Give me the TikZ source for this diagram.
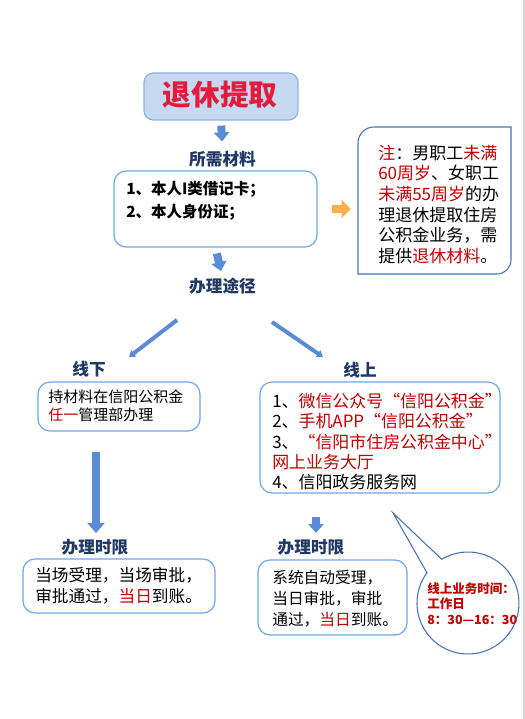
\documentclass[tikz,border=0pt]{standalone}
\usepackage{fontspec}
\setmainfont{Noto Sans CJK SC}
\usetikzlibrary{arrows.meta,fit}
\definecolor{titlefill}{HTML}{C6D9F1}
\definecolor{titleline}{HTML}{8EB4E3}
\definecolor{titlered}{HTML}{E21C3D}
\definecolor{navy}{HTML}{1F3864}
\definecolor{boxline}{HTML}{6FA6E6}
\definecolor{noteline}{HTML}{4A72B5}
\definecolor{hot}{HTML}{C00000}
\definecolor{arrblue}{HTML}{5A8BD6}
\definecolor{arrorange}{HTML}{FBB04C}
\definecolor{edgegray}{HTML}{D9D9D9}
\newcommand{\hotred}[1]{\textcolor{hot}{#1}}
\tikzset{
  tbox/.style={draw=titleline, fill=titlefill, line width=0.9pt, rounded corners=7pt, inner sep=0pt},
  frame/.style={draw=boxline, line width=0.9pt, rounded corners=9pt, inner sep=0pt},
  head/.style={text=navy, font=\fontsize{12.5}{14}\selectfont\bfseries, inner sep=0pt},
  txt/.style={anchor=north west, align=left, inner sep=0pt},
  fat/.style={draw=arrblue, line width=6pt, -{Triangle[width=11.25pt,length=6.75pt]}},
  longfat/.style={draw=arrblue, line width=6pt, -{Triangle[width=12.75pt,length=7.5pt]}},
  slim/.style={draw=arrblue, line width=3pt, -{Triangle[width=6pt,length=4.5pt]}},
  side/.style={draw=arrorange, line width=6pt, -{Triangle[width=13.5pt,length=6.75pt]}},
  bubble/.style={draw=noteline, line width=0.8pt, fill=white},
}

\begin{document}
\begin{tikzpicture}[x=0.75pt,y=-0.75pt]
  \useasboundingbox (0,0) rectangle (525,719);
  \draw[edgegray, line width=1.5pt] (523.5,0) -- (523.5,719);

  \node[tbox, fit={(144,73)(298,120)}] (titlebox) {};
  \node[text=titlered, font=\fontsize{21.5}{24}\selectfont\bfseries, inner sep=0pt] (title) at (220,95) {退休提取};
  \node[head] (need) at (222.5,159) {所需材料};
  \node[frame, fit={(114,171)(317,247)}] (needbox) {};
  \node[txt, font=\fontsize{11.6}{17}\selectfont\bfseries] (needtxt) at (126,181) {1、本人I类借记卡；\\2、本人身份证；};
  \node[head] (way) at (222.5,286) {办理途径};

  \node[fit={(358,127)(511,274)}, inner sep=0pt] (notebox) {};
  \draw[draw=noteline, line width=0.8pt, fill=white] (374,127) -- (511,127) -- (511,260)
    arc[start angle=0, end angle=90, radius=14] -- (358,274) -- (358,143)
    arc[start angle=180, end angle=270, radius=16] -- cycle;
  \node[txt, font=\fontsize{12.75}{15.5}\selectfont] (note) at (378,144.5)
    {\hotred{注}：男职工\hotred{未满}\\\hotred{60周岁}、女职工\\\hotred{未满55周岁}的办\\理退休提取住房\\公积金业务，需\\提供\hotred{退休材料}。};

  \node[head] (off) at (89,369) {线下};
  \node[head] (on) at (360,370) {线上};
  \node[frame, fit={(38,382)(200,431)}] (offbox) {};
  \node[txt, font=\fontsize{11.25}{13.5}\selectfont] (offtxt) at (48,389.5) {持材料在信阳公积金\\\hotred{任一}管理部办理};
  \node[frame, fit={(260,382)(500,493)}] (onbox) {};
  \node[txt, font=\fontsize{12.7}{15.2}\selectfont] (ontxt) at (272,393)
    {1、\hotred{微信公众号“信阳公积金”}\\2、\hotred{手机APP“信阳公积金”}\\3、\hotred{“信阳市住房公积金中心”}\\\hotred{网上业务大厅}\\4、信阳政务服务网};

  \node[head] (lim1) at (95,547) {办理时限};
  \node[head] (lim2) at (311,547) {办理时限};
  \node[frame, fit={(23,559)(215,613)}] (limbox1) {};
  \node[txt, font=\fontsize{12.5}{15.75}\selectfont] (limtxt1) at (35,567) {当场受理，当场审批，\\审批通过，\hotred{当日}到账。};
  \node[frame, fit={(258,560)(407,635)}] (limbox2) {};
  \node[txt, font=\fontsize{11.8}{15.75}\selectfont] (limtxt2) at (272,570) {系统自动受理，\\当日审批，审批\\通过，\hotred{当日}到账。};

  \coordinate (bc) at (468,603);
  \coordinate (tip) at (393,513);
  \draw[bubble] ([shift={(-121:51)}]bc) arc[start angle=-121, end angle=216.4, radius=51] -- (tip) -- cycle;
  \node[txt, text=hot, font=\fontsize{9.4}{11.5}\selectfont\bfseries] (hours) at (427,582.5) {线上业务时间：\\工作日\\8：30—16：30};

  \coordinate (dl1) at (177,320);
  \coordinate (dl2) at (129,357);
  \coordinate (dr1) at (272,322);
  \coordinate (dr2) at (323,357);
  \coordinate (l1) at (96,452);
  \coordinate (l2) at (96,533);
  \coordinate (r1) at (316,517);
  \coordinate (r2) at (316,533);

  \draw[fat, shorten <=3.75pt, shorten >=7pt] (titlebox.south) -- (need.north);
  \draw[fat, shorten <=4.5pt, shorten >=5pt] (needbox.south) -- (way.north);
  \draw[side, shorten <=10.5pt, shorten >=5.25pt] (needbox.east) -- (needbox.east -| notebox.west);
  \draw[slim] (dl1) -- (dl2);
  \draw[slim] (dr1) -- (dr2);
  \draw[longfat] (l1) -- (l2);
  \draw[fat] (r1) -- (r2);
\end{tikzpicture}
\end{document}
